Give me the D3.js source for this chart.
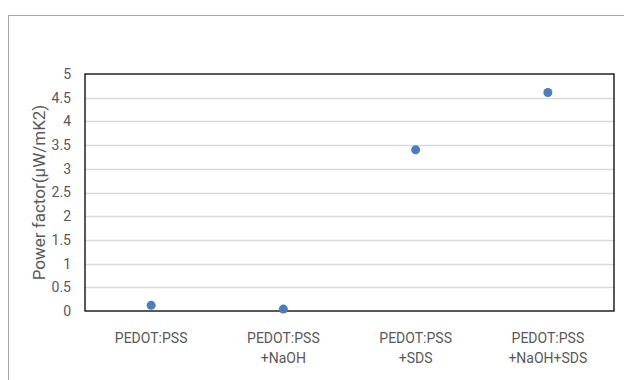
<!DOCTYPE html>
<html><head><meta charset="utf-8">
<script src="https://cdn.jsdelivr.net/npm/d3@7"></script>
<style>body{margin:0;background:#fff}svg{display:block}text{font-family:Roboto,sans-serif;fill:#595959}</style>
</head><body><svg id="c" width="624" height="380"></svg>
<script>
const categories = [["PEDOT:PSS"],["PEDOT:PSS","+NaOH"],["PEDOT:PSS","+SDS"],["PEDOT:PSS","+NaOH+SDS"]];
const values = [0.12, 0.04, 3.40, 4.61];
const yTicks = [0,0.5,1,1.5,2,2.5,3,3.5,4,4.5,5];
const yTitle = "Power factor(μW/mK2)";

const svg = d3.select("#c");
const m = {l:85, t:74, r:614, b:311};
svg.append("rect").attr("x",8.5).attr("y",15.5).attr("width",640).attr("height",400).attr("fill","none").attr("stroke","#a6a6a6").attr("stroke-width",1);
const x = d3.scaleBand().domain(d3.range(categories.length)).range([m.l,m.r]);
const y = d3.scaleLinear().domain([0,5]).range([m.b,m.t]);
svg.append("g").selectAll("line").data(yTicks.filter(d=>d>0&&d<5)).join("line")
  .attr("x1",m.l).attr("x2",m.r).attr("y1",d=>Math.round(y(d))+0.5).attr("y2",d=>Math.round(y(d))+0.5)
  .attr("stroke","#d9d9d9").attr("stroke-width",1.5);
svg.append("rect").attr("x",m.l).attr("y",m.t).attr("width",m.r-m.l).attr("height",m.b-m.t).attr("fill","none").attr("stroke","#000").attr("stroke-width",1.3);
const ya = svg.append("g").attr("transform",`translate(${m.l-14},0)`).call(d3.axisLeft(y).tickValues(yTicks).tickSize(0).tickPadding(0).tickFormat(d3.format("")));
ya.select(".domain").remove();
ya.selectAll("text").attr("font-size",14).style("fill","#595959").attr("font-family",null);
const xa = svg.append("g");
categories.forEach((c,i)=>{
  const t = xa.append("text").attr("x",x(i)+x.bandwidth()/2).attr("y",343).attr("text-anchor","middle").attr("font-size",14);
  c.forEach((s,j)=>t.append("tspan").attr("x",x(i)+x.bandwidth()/2).attr("dy",j?20:0).text(s));
});
svg.append("text").attr("transform",`translate(45,${(m.t+m.b)/2}) rotate(-90)`).attr("text-anchor","middle").attr("font-size",17).text(yTitle);
svg.append("g").selectAll("circle").data(values).join("circle")
  .attr("cx",(d,i)=>x(i)+x.bandwidth()/2).attr("cy",d=>y(d)).attr("r",4.5).attr("fill","#4a7ebb");
</script></body></html>
